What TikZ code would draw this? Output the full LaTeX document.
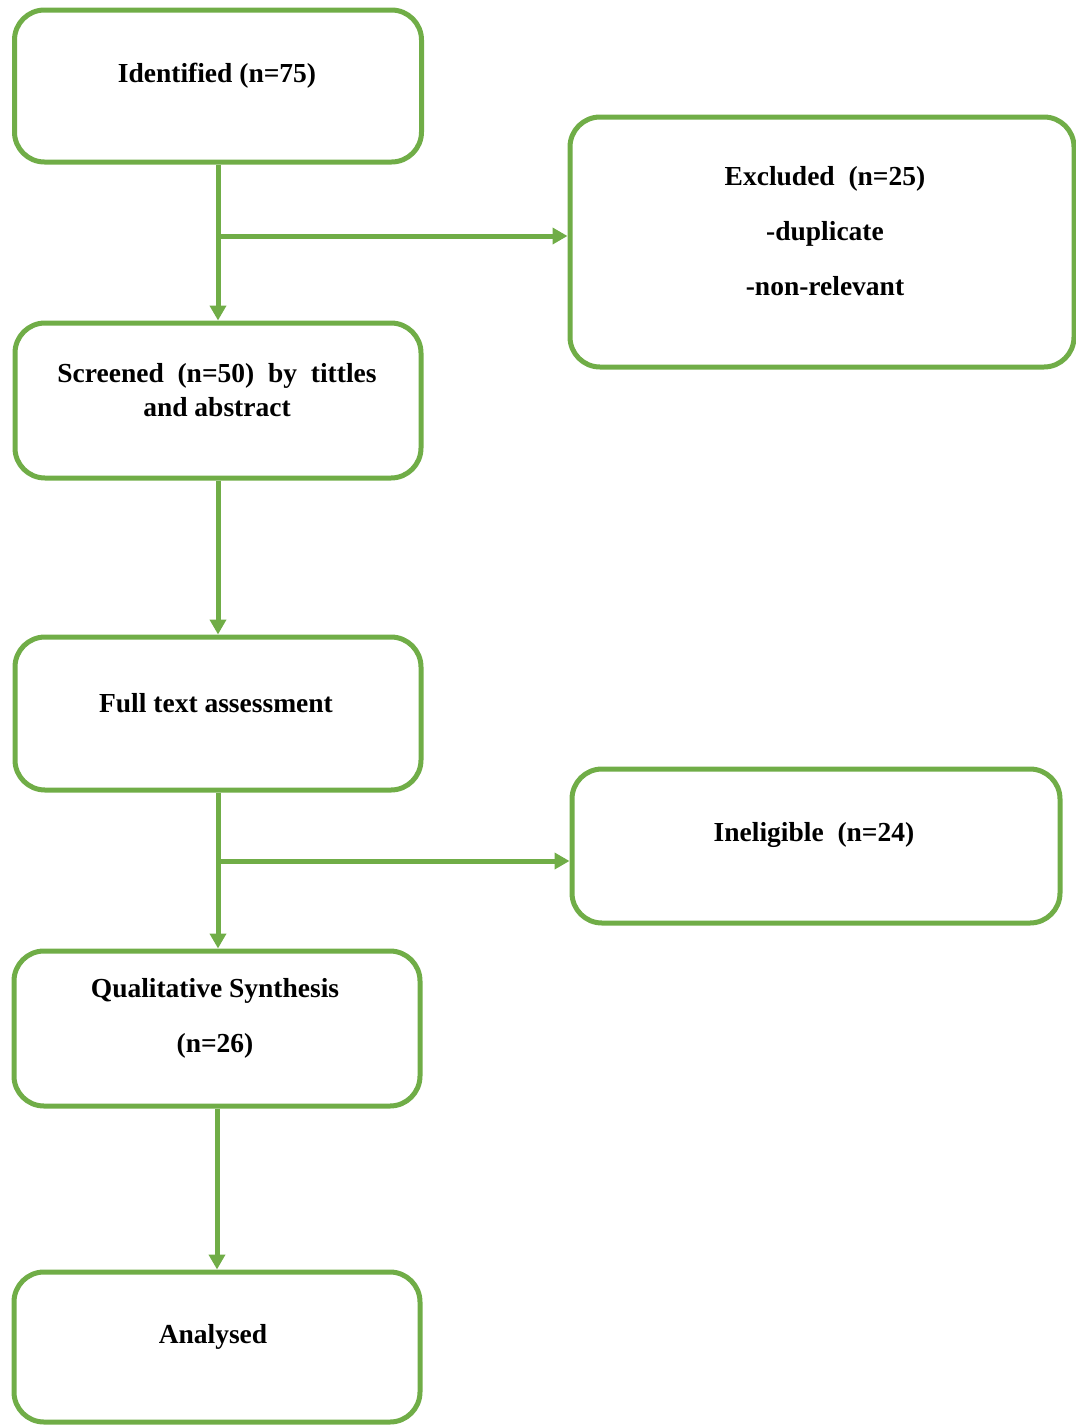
\documentclass[tikz,border=0pt]{standalone}
\usepackage{fontspec}
\setmainfont{Liberation Serif}
\usetikzlibrary{arrows.meta}
\definecolor{boxgreen}{RGB}{112,173,71}
\begin{document}
\begin{tikzpicture}[x=1pt,y=-1pt,
  box/.style={draw=boxgreen, line width=5pt, rounded corners=30pt, fill=white, inner sep=0pt},
  txt/.style={font=\fontsize{27.5}{34}\selectfont\bfseries, align=center, text=black},
  arr/.style={draw=boxgreen, line width=5pt, -{Triangle[length=15pt,width=16pt]}},
  ln/.style={draw=boxgreen, line width=5pt}]
\useasboundingbox (0,0) rectangle (1076,1425);
% boxes
\node[box, minimum width=407pt, minimum height=152pt] (id) at (218,86) {};
\node[box, minimum width=504pt, minimum height=250pt] (exc) at (822,242) {};
\node[box, minimum width=406pt, minimum height=155pt] (scr) at (218,400.5) {};
\node[box, minimum width=406pt, minimum height=153pt] (full) at (218,713.5) {};
\node[box, minimum width=488pt, minimum height=154pt] (inel) at (816,846) {};
\node[box, minimum width=406pt, minimum height=155pt] (qual) at (217,1028.5) {};
\node[box, minimum width=406pt, minimum height=150pt] (anal) at (217,1347) {};
% texts
\node[txt] (idt) at (217,76) {Identified (n=75)};
\node[txt] (exct) at (825,231) {Excluded\ \ (n=25)\\[21pt]-duplicate\\[21pt]-non-relevant};
\node[txt] (scrt) at (217,390) {Screened\ \ (n=50)\ \ by\ \ tittles\\and abstract};
\node[txt] (fullt) at (216,703) {Full text assessment};
\node[txt] (inelt) at (814,835) {Ineligible\ \ (n=24)};
\node[txt] (qualt) at (215,1018) {Qualitative Synthesis\\[21pt](n=26)};
\node[txt] (analt) at (213,1337) {Analysed};
% connectors
\coordinate (b1) at (218,236);
\coordinate (b2) at (218,861);
\draw[arr] (id.south) -- (scr.north);
\draw[arr] (b1) -- (b1 -| exc.west);
\draw[arr] (scr.south) -- (full.north);
\draw[arr] (full.south) -- (full.south |- qual.north);
\draw[arr] (b2) -- (b2 -| inel.west);
\draw[arr] (qual.south) -- (anal.north);
\end{tikzpicture}
\end{document}
